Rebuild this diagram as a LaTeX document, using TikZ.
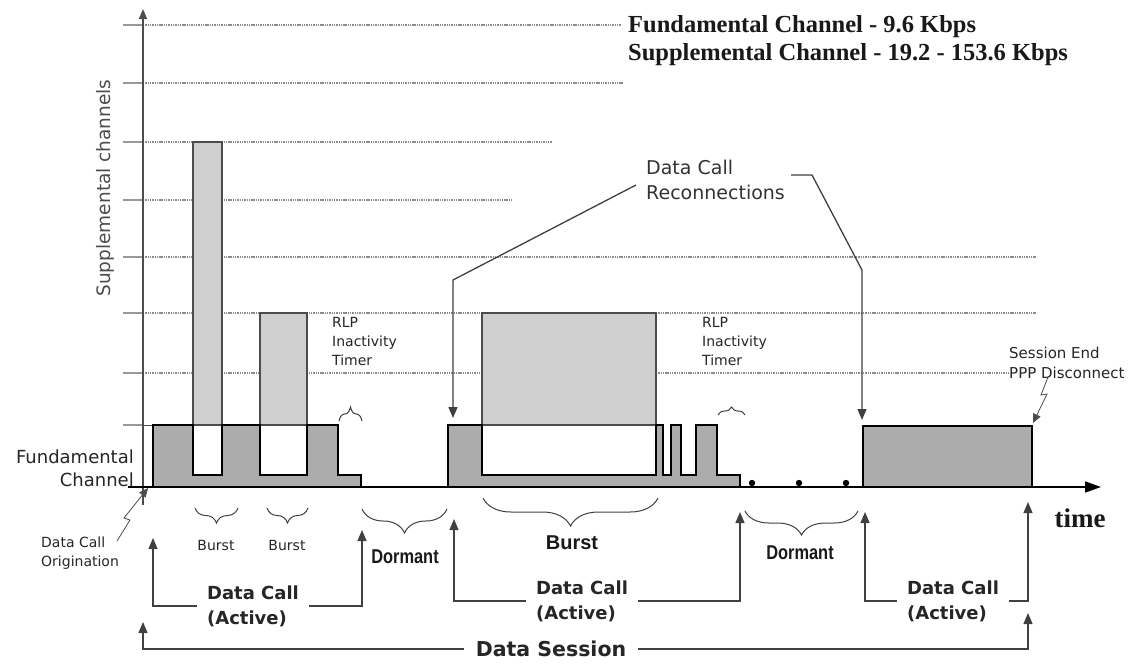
\documentclass[tikz,border=0pt]{standalone}
\usepackage{fontspec}
\usepackage{graphicx}
\setmainfont{Liberation Serif}
\setsansfont{DejaVu Sans}
\newfontfamily\arialfont{Liberation Sans}
\usetikzlibrary{arrows.meta,decorations.pathreplacing,positioning}

\tikzset{
  grid line/.style={black!45, line width=1.4pt, dash pattern=on 1.4pt off 0.9pt},
  grid tick/.style={gray!80, line width=2pt},
  fund block/.style={draw=black, line width=2pt, fill=gray!65},
  supp bar/.style={draw=black!70, line width=1.2pt, fill=gray!38},
  leader/.style={black!75, line width=1.3pt, -{Triangle[length=11pt,width=9pt]}},
  up arrow/.style={black!75, line width=1.2pt, -{Triangle[length=11pt,width=9pt]}},
  brace down/.style={decorate, decoration={brace, mirror, amplitude=#1}, black!75, line width=1pt},
  brace up/.style={decorate, decoration={brace, amplitude=#1}, black!75, line width=1pt},
  small label/.style={font=\sffamily\fontsize{14}{19}\selectfont, text=black!85, inner sep=0pt, align=left},
  mid label/.style={font=\sffamily\fontsize{19}{25}\selectfont, text=black!80, inner sep=0pt, align=left},
  active label/.style={font=\sffamily\bfseries\fontsize{18}{25}\selectfont, text=black!85, align=left, inner xsep=10pt},
  dormant label/.style={font=\arialfont\bfseries\fontsize{20}{20}\selectfont, text=black!90, inner sep=0pt},
}

\begin{document}
\begin{tikzpicture}[x=1pt,y=-1pt]
  \useasboundingbox[fill=white] (0,0) rectangle (1132,664);

  % Grid lines for the supplemental channels
  \foreach \gy/\gx in {25/621, 83/623, 142/552, 200/512, 257/1036, 313/1036, 373/1010}{
    \draw[grid line] (143,\gy) -- (\gx,\gy);
    \draw[grid tick] (123,\gy) -- (143,\gy);
  }
  \draw[grid tick] (123,425) -- (143,425);
  \draw[black!70, line width=0.8pt] (143,425) -- (153,425);

  % Axes
  \draw[black!70, line width=1.6pt, -{Triangle[length=10pt,width=8pt]}] (143,505) -- (143,9);
  \draw[black, line width=1.6pt, -{Triangle[length=16pt,width=11pt]}] (128,487) -- (1101,487);

  % Supplemental channel bursts
  \draw[supp bar] (193,142) rectangle (222,425);
  \draw[supp bar] (260,313) rectangle (307,425);
  \draw[supp bar] (482,313) rectangle (656,425);

  % Fundamental channel
  \draw[fund block] (153,487) -- (153,425) -- (193,425) -- (193,475) -- (222,475) -- (222,425)
    -- (260,425) -- (260,475) -- (307,475) -- (307,425) -- (338,425) -- (338,475)
    -- (361,475) -- (361,487) -- cycle;
  \draw[fund block] (448,487) -- (448,425) -- (482,425) -- (482,475) -- (656,475) -- (656,425)
    -- (663,425) -- (663,475) -- (671,475) -- (671,425) -- (681,425) -- (681,475)
    -- (696,475) -- (696,425) -- (717,425) -- (717,475) -- (740,475) -- (740,487) -- cycle;
  \draw[fund block] (863,426) rectangle (1032,487);

  % Dormant dots
  \foreach \dx in {752,799,846}
    \fill[black] (\dx,483) circle (3.2);

  % Axis labels
  \node[font=\sffamily\fontsize{18.5}{20}\selectfont, text=black!70, rotate=90] (supplbl) at (105,188) {Supplemental channels};
  \node[font=\sffamily\fontsize{18}{23}\selectfont, text=black!85, align=right, anchor=east, inner sep=0pt] (fundlbl) at (134,468) {Fundamental\\Channel};
  \node[font=\bfseries\fontsize{27}{27}\selectfont, text=black!90] (timelbl) at (1080,518) {time};
  \node[font=\bfseries\fontsize{24.5}{28}\selectfont, text=black!90, align=left, anchor=west, inner sep=0pt] (rates) at (628,41)
    {Fundamental Channel - 9.6 Kbps\\Supplemental Channel - 19.2 - 153.6 Kbps};

  % Timer labels and braces
  \node[small label, anchor=west] (rlp1) at (332,341) {RLP\\Inactivity\\Timer};
  \node[small label, anchor=west] (rlp2) at (702,341) {RLP\\Inactivity\\Timer};
  \draw[brace up=14] (339,421) -- (362,421);
  \draw[brace up=8] (718,415) -- (745,415);

  % Reconnections
  \node[mid label, anchor=west] (recon) at (646,180) {Data Call\\Reconnections};
  \coordinate (recon left) at (453,418);
  \coordinate (recon right) at (862,420);
  \draw[leader] ([shift={(-10,5)}]recon.west) -- (453,280) -- (recon left);
  \draw[leader] ([shift={(6,-5)}]recon.east) -- (812,175) -- (862,270) -- (recon right);

  % Session end
  \node[small label, font=\sffamily\fontsize{15}{20}\selectfont, anchor=west] (sessend) at (1009,363) {Session End\\PPP Disconnect};
  \coordinate (end tip) at (1033,423);
  \draw[black!70, line width=0.8pt, -{Triangle[length=9pt,width=8pt]}] (1048,377) -- (1041,395) -- (1047,394) -- (end tip);

  % Origination
  \node[small label, anchor=west] (orig) at (41,553) {Data Call\\Origination};
  \coordinate (orig tip) at (148,488);
  \draw[black!70, line width=0.8pt, -{Triangle[length=9pt,width=8pt]}] (117,541) -- (130,520) -- (124,518) -- (orig tip);

  % Bursts and dormant periods
  \draw[brace down=15] (195,508) -- (238,508);
  \draw[brace down=15] (267,508) -- (308,508);
  \draw[brace down=24] (362,509) -- (447,509);
  \draw[brace down=28] (483,498) -- (658,498);
  \draw[brace down=24] (745,511) -- (858,511);
  \node[small label] (burst1) at (216,545) {Burst};
  \node[small label] (burst2) at (287,545) {Burst};
  \node[dormant label] (burst3) at (572,543) {Burst};
  \node[dormant label] (dorm1) at (405,557) {\scalebox{0.82}[1]{Dormant}};
  \node[dormant label] (dorm2) at (800,553) {\scalebox{0.82}[1]{Dormant}};

  % Data calls
  \node[active label] (act1) at (253,606) {Data Call\\(Active)};
  \node[active label] (act2) at (582,601) {Data Call\\(Active)};
  \node[active label] (act3) at (953,601) {Data Call\\(Active)};
  \coordinate (a1l) at (153,538);
  \coordinate (a1r) at (362,530);
  \coordinate (a2l) at (454,519);
  \coordinate (a2r) at (740,512);
  \coordinate (a3l) at (865,512);
  \coordinate (a3r) at (1028,502);
  \draw[up arrow] (act1.west) -| (a1l);
  \draw[up arrow] (act1.east) -| (a1r);
  \draw[up arrow] (act2.west) -| (a2l);
  \draw[up arrow] (act2.east) -| (a2r);
  \draw[up arrow] (act3.west) -| (a3l);
  \draw[up arrow] (act3.east) -| (a3r);

  % Data session
  \node[font=\sffamily\bfseries\fontsize{20.5}{22}\selectfont, text=black!85, inner xsep=12pt] (session) at (551,649) {Data Session};
  \coordinate (s left) at (143,622);
  \coordinate (s right) at (1028,613);
  \draw[up arrow] (session.west) -| (s left);
  \draw[up arrow] (session.east) -| (s right);
\end{tikzpicture}
\end{document}
